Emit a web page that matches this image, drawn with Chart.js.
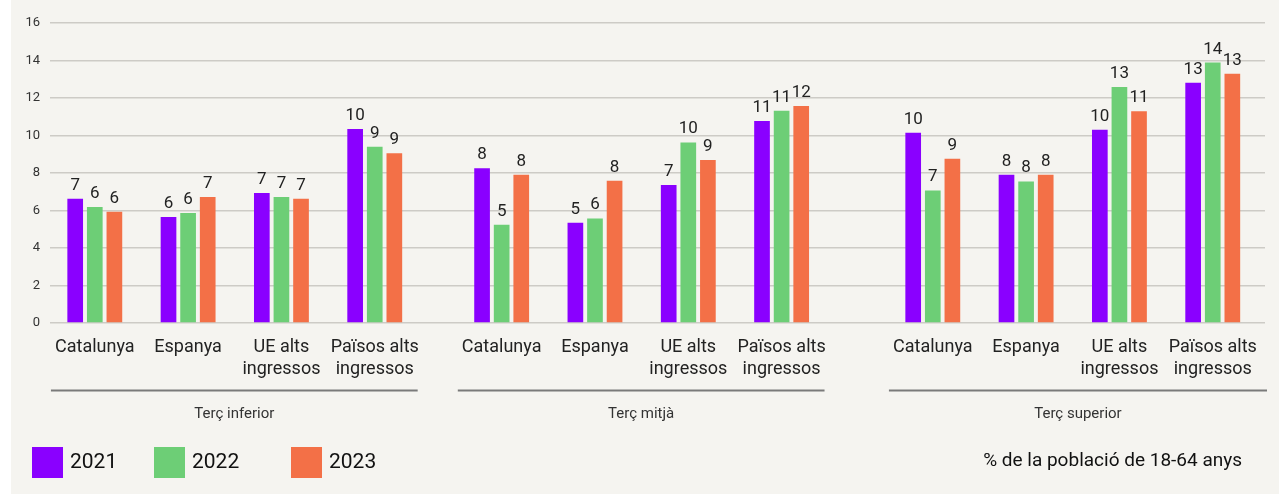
<!DOCTYPE html>
<html>
<head>
<meta charset="utf-8">
<script src="https://cdn.jsdelivr.net/npm/chart.js@4.4.1/dist/chart.umd.min.js"></script>
<style>
  html, body { margin: 0; padding: 0; background: #ffffff; }
  #wrap { width: 1279px; height: 495px; }
</style>
</head>
<body>
<div id="wrap"><canvas id="chart" width="1279" height="495"></canvas></div>
<script>
// data
var groups = ['Terç inferior', 'Terç mitjà', 'Terç superior'];
var categories = ['Catalunya', 'Espanya', ['UE alts', 'ingressos'], ['Països alts', 'ingressos']];
var years = ['2021', '2022', '2023'];
var values2021 = [6.63, 5.65, 6.93, 10.35, 8.25, 5.35, 7.36, 10.77, 10.15, 7.91, 10.31, 12.82];
var values2022 = [6.19, 5.87, 6.72, 9.40, 5.24, 5.58, 9.63, 11.32, 7.07, 7.55, 12.59, 13.89];
var values2023 = [5.94, 6.72, 6.63, 9.05, 7.91, 7.59, 8.69, 11.57, 8.76, 7.91, 11.29, 13.29];
var yTicks = [0, 2, 4, 6, 8, 10, 12, 14, 16];
var note = '% de la població de 18-64 anys';

// layout: extra space (in category slots) before each group
var groupGap = [0, 0.36, 0.62];
var colors = ['#8a00ff', '#6dce76', '#f37047'];
var font = 'Roboto, "Noto Sans", sans-serif';

var positions = [];
var tickText = [];
var offset = 0;
groups.forEach(function (g, gi) {
  offset += groupGap[gi];
  categories.forEach(function (c, ci) {
    positions.push(gi * categories.length + ci + offset);
    tickText.push(c);
  });
});

var extras = {
  id: 'extras',
  beforeDraw: function (chart) {
    var ctx = chart.ctx;
    ctx.save();
    ctx.fillStyle = '#f5f4f0';
    ctx.fillRect(11, 0, chart.width - 11, 494);
    ctx.restore();
  },
  afterDatasetsDraw: function (chart) {
    var ctx = chart.ctx;
    ctx.save();
    ctx.font = '17px ' + font;
    ctx.fillStyle = '#222222';
    ctx.textAlign = 'center';
    ctx.textBaseline = 'alphabetic';
    chart.data.datasets.forEach(function (ds, di) {
      chart.getDatasetMeta(di).data.forEach(function (bar, i) {
        ctx.fillText(Math.round(ds.data[i]), bar.x, bar.y - 9);
      });
    });
    ctx.restore();
  },
  afterDraw: function (chart) {
    var ctx = chart.ctx;
    var x = chart.scales.x;
    var slot = x.getPixelForValue(1) - x.getPixelForValue(0);
    var n = categories.length;
    ctx.save();
    // group underlines and names
    groups.forEach(function (g, gi) {
      var x0 = x.getPixelForValue(positions[gi * n]) - 0.47 * slot;
      var x1 = gi === groups.length - 1 ? chart.chartArea.right + 2 :
        x.getPixelForValue(positions[gi * n + n - 1]) + 0.46 * slot;
      ctx.strokeStyle = '#7a7a7a';
      ctx.lineWidth = 2;
      ctx.beginPath();
      ctx.moveTo(x0, 390.5);
      ctx.lineTo(x1, 390.5);
      ctx.stroke();
      ctx.font = '15px ' + font;
      ctx.fillStyle = '#333333';
      ctx.textAlign = 'center';
      ctx.textBaseline = 'middle';
      ctx.fillText(g, (x0 + x1) / 2, 414);
    });
    // legend
    var lx = [32, 154, 291];
    chart.data.datasets.forEach(function (ds, di) {
      ctx.fillStyle = ds.backgroundColor;
      ctx.fillRect(lx[di], 447, 31, 31);
      ctx.font = '21px ' + font;
      ctx.fillStyle = '#111111';
      ctx.textAlign = 'left';
      ctx.textBaseline = 'middle';
      ctx.fillText(ds.label, lx[di] + 38, 463);
    });
    // note
    ctx.font = '19px ' + font;
    ctx.textAlign = 'right';
    ctx.fillStyle = '#111111';
    ctx.fillText(note, 1242, 461);
    ctx.restore();
  }
};

new Chart(document.getElementById('chart'), {
  type: 'bar',
  data: {
    labels: positions,
    datasets: [
      { label: years[0], data: values2021, backgroundColor: colors[0] },
      { label: years[1], data: values2022, backgroundColor: colors[1] },
      { label: years[2], data: values2023, backgroundColor: colors[2] }
    ]
  },
  options: {
    responsive: false,
    animation: false,
    events: [],
    layout: { padding: { top: 23, right: 14, bottom: 0, left: 0 } },
    datasets: {
      bar: { categoryPercentage: 0.63, barPercentage: 0.8, borderWidth: 0 }
    },
    plugins: {
      legend: { display: false },
      tooltip: { enabled: false }
    },
    scales: {
      x: {
        type: 'linear',
        offset: false,
        min: -0.48,
        max: 12.54,
        grid: { display: false },
        border: { display: false },
        afterBuildTicks: function (scale) {
          scale.ticks = positions.map(function (p) { return { value: p }; });
        },
        afterFit: function (scale) { scale.height = 172; },
        ticks: {
          autoSkip: false,
          maxRotation: 0,
          minRotation: 0,
          padding: 5,
          color: '#222222',
          font: { family: font, size: 18, lineHeight: 1.25 },
          callback: function (v, i) { return tickText[i]; }
        }
      },
      y: {
        min: 0,
        max: 16,
        afterBuildTicks: function (scale) {
          scale.ticks = yTicks.map(function (t) { return { value: t }; });
        },
        afterFit: function (scale) { scale.width = 50; },
        grid: { color: '#cdcbc6', lineWidth: 1.5, drawTicks: false },
        border: { display: false },
        ticks: {
          padding: 10,
          color: '#333333',
          font: { family: font, size: 13 }
        }
      }
    }
  },
  plugins: [extras]
});
</script>
</body>
</html>
